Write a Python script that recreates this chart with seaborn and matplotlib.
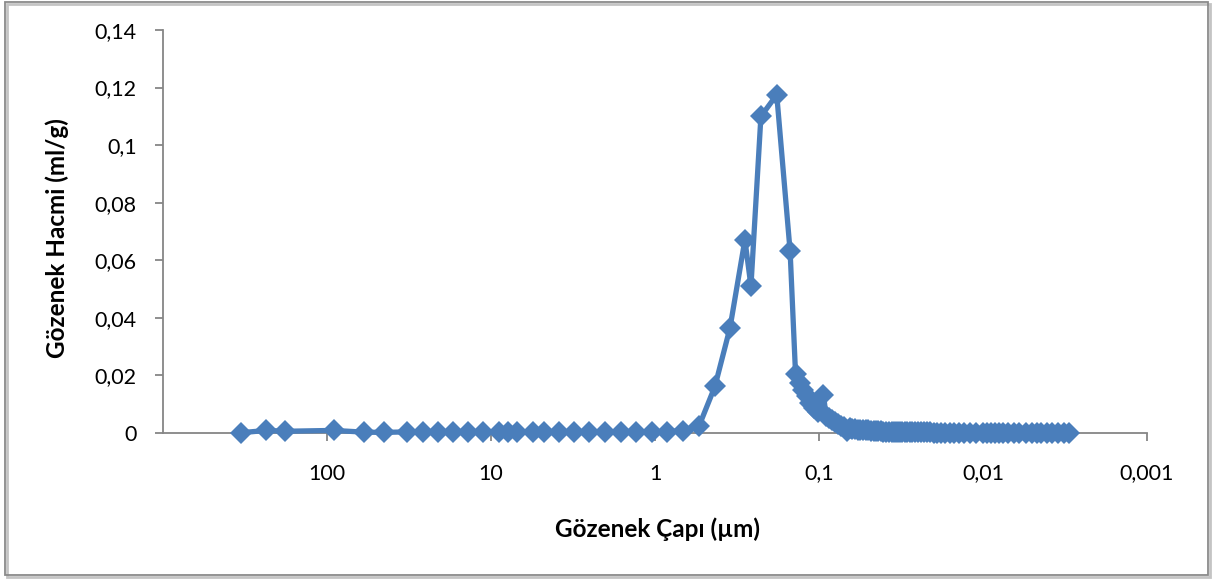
import numpy as np
import pandas as pd
import matplotlib
matplotlib.use("Agg")
import matplotlib.pyplot as plt
import seaborn as sns
from matplotlib.patches import Rectangle
from matplotlib.ticker import FixedLocator, FixedFormatter, NullLocator

# Pore diameter (µm) and pore volume (ml/g)
pore_diameter_um = [
    334, 234, 180, 91, 59.8, 44.8, 32.4, 25.8, 20.9, 17.0, 13.8, 11.15, 9.0,
    7.84, 6.93, 5.53, 4.75, 3.84, 3.11, 2.51, 2.03, 1.62, 1.30, 1.04, 0.84,
    0.672, 0.54, 0.431, 0.349, 0.283, 0.260, 0.226, 0.181, 0.150, 0.139,
    0.130, 0.125, 0.119, 0.1135, 0.108, 0.101, 0.094, 0.0905, 0.087, 0.083,
    0.080, 0.0765, 0.0735, 0.0705, 0.0675, 0.065, 0.0625, 0.060, 0.058, 0.056,
    0.054, 0.052, 0.050, 0.048, 0.0465, 0.045, 0.0435, 0.042, 0.0405, 0.039,
    0.0375, 0.036, 0.035, 0.034, 0.033, 0.032, 0.031, 0.030, 0.029, 0.028,
    0.027, 0.026, 0.025, 0.024, 0.023, 0.022, 0.021, 0.020, 0.019, 0.018,
    0.017, 0.016, 0.015, 0.014, 0.013, 0.012, 0.011, 0.010, 0.0095, 0.009,
    0.0085, 0.008, 0.0075, 0.007, 0.0065, 0.006, 0.0055, 0.005, 0.0047,
    0.0044, 0.0041, 0.0038, 0.0035, 0.0032, 0.0030,
]
pore_volume_ml_g = [
    0.0001, 0.0009, 0.0006, 0.0009, 0.0003, 0.0002, 0.0004, 0.0003, 0.0003,
    0.0002, 0.0003, 0.0004, 0.0004, 0.0005, 0.0004, 0.0003, 0.0002, 0.0003,
    0.0003, 0.0004, 0.0003, 0.0004, 0.0005, 0.0004, 0.0005, 0.0008, 0.0023,
    0.0162, 0.0365, 0.0671, 0.0510, 0.1100, 0.1175, 0.0631, 0.0205,
    0.0174, 0.0150, 0.0127, 0.0104, 0.0087, 0.0072, 0.0133, 0.0060, 0.0051,
    0.0044, 0.0037, 0.0031, 0.0026, 0.0021, 0.0008, 0.0017, 0.0015, 0.0013,
    0.0012, 0.0011, 0.0010, 0.0009, 0.0009, 0.0008, 0.0007, 0.0007, 0.0006,
    0.0006, 0.0005, 0.0005, 0.0004, 0.0004, 0.0004, 0.0003, 0.0003, 0.0003,
    0.0003, 0.0003, 0.0002, 0.0002, 0.0002, 0.0002, 0.0002, 0.0002, 0.0002,
    0.0002, 0.0002, 0.0001, 0.0001, 0.0001, 0.0001, 0.0001, 0.0001, 0.0001,
    0.0001, 0.0001, 0.0001, 0.0001, 0.0001, 0.0001, 0.0001, 0.0001, 0.0001,
    0.0001, 0.0001, 0.0001, 0.0001, 0.0001, 0.0001, 0.0001, 0.0001, 0.0001,
    0.0001, 0.0001, 0.0001,
]

x_ticks = [100, 10, 1, 0.1, 0.01, 0.001]
x_tick_labels = ["100", "10", "1", "0,1", "0,01", "0,001"]
y_ticks = [0, 0.02, 0.04, 0.06, 0.08, 0.10, 0.12, 0.14]
y_tick_labels = ["0", "0,02", "0,04", "0,06", "0,08", "0,1", "0,12", "0,14"]
x_title = "Gözenek Çapı (µm)"
y_title = "Gözenek Hacmi (ml/g)"

sns.set_theme(style="white")
plt.rcParams['font.family'] = ['Lato', 'DejaVu Sans']

W, H = 1216, 579
fig = plt.figure(figsize=(W / 100, H / 100), dpi=100)
fig.patch.set_facecolor("white")

# outer chart frame with light shadow
fig.add_artist(Rectangle((7 / W, 1 - 577 / H), (1203 / W), (573 / H),
                         transform=fig.transFigure, facecolor="none",
                         edgecolor="#c4c4c4", lw=2.0, zorder=0))
fig.add_artist(Rectangle((5 / W, 1 - 575 / H), (1203 / W), (573 / H),
                         transform=fig.transFigure, facecolor="none",
                         edgecolor="#8a8a8a", lw=1.3, zorder=1))

ax = fig.add_axes([163 / W, 1 - 433 / H, (1147 - 163) / W, (433 - 30) / H])
ax.set_facecolor("white")

df = pd.DataFrame({"d": pore_diameter_um, "v": pore_volume_ml_g})
color = "#4A7EBB"
sns.lineplot(data=df, x="d", y="v", sort=False, estimator=None, ax=ax,
             color=color, lw=3.8, marker="D", markersize=11.5,
             markeredgewidth=0, clip_on=False, zorder=3)

ax.set_xscale("log")
ax.set_xlim(1000, 0.001)
ax.set_ylim(0, 0.14)
ax.xaxis.set_major_locator(FixedLocator(x_ticks))
ax.xaxis.set_major_formatter(FixedFormatter(x_tick_labels))
ax.xaxis.set_minor_locator(NullLocator())
ax.yaxis.set_major_locator(FixedLocator(y_ticks))
ax.yaxis.set_major_formatter(FixedFormatter(y_tick_labels))

for s in ["top", "right"]:
    ax.spines[s].set_visible(False)
for s in ["left", "bottom"]:
    ax.spines[s].set_color("#868686")
    ax.spines[s].set_linewidth(1.3)
    ax.spines[s].set_zorder(2)

ax.tick_params(axis="both", which="major", bottom=True, left=True,
               direction="out", length=6, width=1.3, color="#868686",
               labelsize=15.5, labelcolor="black")
ax.tick_params(axis="x", pad=16)
ax.tick_params(axis="y", pad=13)
ax.grid(False)
ax.set_xlabel("")
ax.set_ylabel("")

fig.text(658 / W, 1 - 529 / H, x_title, ha="center", va="center",
         fontsize=17.5, fontweight="bold", color="black")
fig.text(57 / W, 1 - 238 / H, y_title, ha="center", va="center",
         rotation=90, fontsize=17.5, fontweight="bold", color="black")

fig.savefig("out.png", dpi=100, facecolor="white")
